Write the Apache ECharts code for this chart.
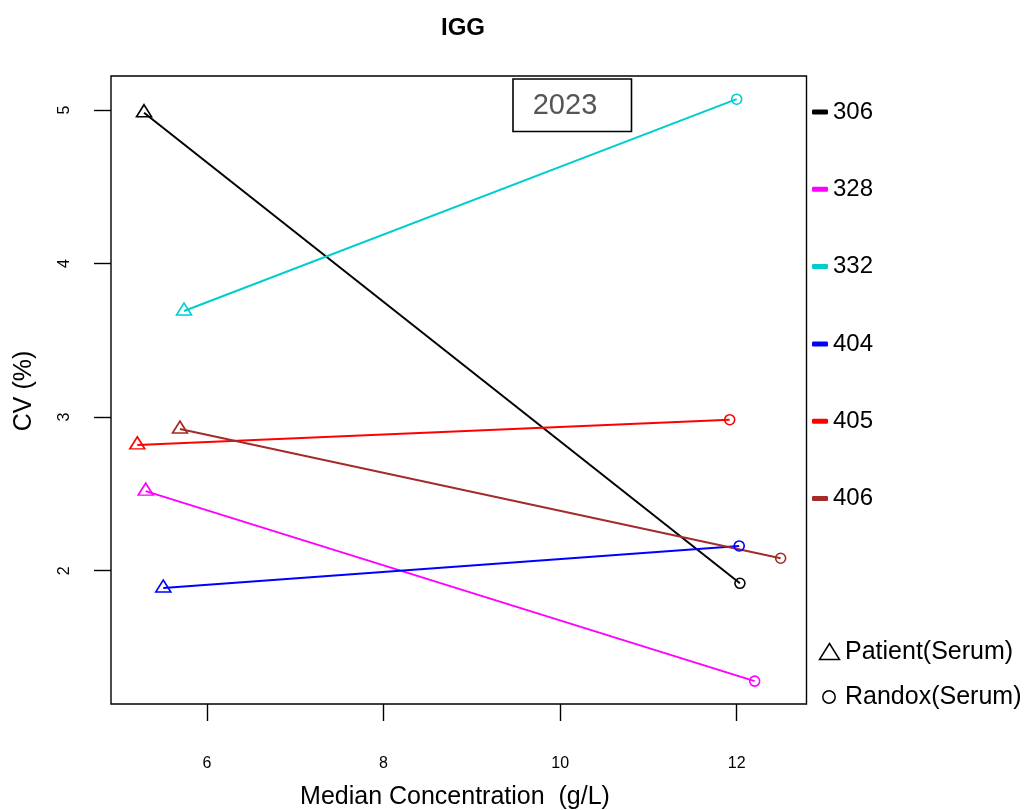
<!DOCTYPE html>
<html>
<head>
<meta charset="utf-8">
<script src="https://cdn.jsdelivr.net/npm/echarts@6/dist/echarts.min.js"></script>
<style>
html,body{margin:0;padding:0;background:#fff;}
#chart{width:1025px;height:810px;}
</style>
</head>
<body>
<div id="chart"></div>
<script>
// ---- data ----
const labs = ['306', '328', '332', '404', '405', '406'];
const colors = ['#000000', '#FF00FF', '#00CDCD', '#0000FF', '#FF0000', '#A52A2A'];
// Patient(Serum) points (triangles)
const patientX = [5.287, 5.306, 5.740, 5.505, 5.211, 5.694];
const patientY = [4.982, 2.518, 3.691, 1.887, 2.819, 2.922];
// Randox(Serum) points (circles)
const randoxX = [12.036, 12.203, 11.999, 12.028, 11.920, 12.497];
const randoxY = [1.918, 1.281, 5.070, 2.161, 2.983, 2.081];
const xTicks = [6, 8, 10, 12];
const yTicks = [2, 3, 4, 5];
const titleText = 'IGG';
const yearText = '2023';
const xName = 'Median Concentration  (g/L)';
const yName = 'CV (%)';
const shapeNames = ['Patient(Serum)', 'Randox(Serum)'];

const FONT = 'Liberation Sans, Arial, Helvetica, sans-serif';
const chart = echarts.init(document.getElementById('chart'), null, {renderer: 'canvas'});

const series = labs.map((name, i) => ({
  name: name,
  type: 'line',
  data: [
    {value: [patientX[i], patientY[i]], symbol: 'triangle', symbolSize: [15, 12], symbolOffset: [0, -2],
     itemStyle: {color: 'none', borderColor: colors[i], borderWidth: 1.6}},
    {value: [randoxX[i], randoxY[i]], symbol: 'circle', symbolSize: 10,
     itemStyle: {color: 'none', borderColor: colors[i], borderWidth: 1.6}}
  ],
  showAllSymbol: true,
  color: colors[i],
  itemStyle: {color: colors[i]},
  lineStyle: {color: colors[i], width: 2},
  emphasis: {disabled: true},
  z: 3
}));

const option = {
  animation: false,
  backgroundColor: '#ffffff',
  title: {
    text: titleText,
    left: 458, top: 23, textAlign: 'center', textVerticalAlign: 'middle',
    textStyle: {fontFamily: FONT, fontSize: 24, fontWeight: 'bold', color: '#000'}
  },
  grid: {
    left: 111, right: 218.5, top: 76, bottom: 106,
    show: true, borderColor: '#000', borderWidth: 1.4,
    containLabel: false, outerBoundsMode: 'none'
  },
  legend: {
    data: labs.map((n, i) => ({name: n, itemStyle: {color: colors[i]}})),
    orient: 'vertical',
    left: 812, top: 100,
    padding: 0,
    icon: 'roundRect',
    itemWidth: 16, itemHeight: 5,
    itemGap: 53.3,
    selectedMode: false,
    textStyle: {fontFamily: FONT, fontSize: 24, lineHeight: 24, color: '#000'}
  },
  xAxis: {
    type: 'value',
    min: 4.913, max: 12.790,
    axisLine: {show: false},
    splitLine: {show: false},
    axisTick: {show: true, customValues: xTicks, length: 17, inside: false, lineStyle: {color: '#000', width: 1.4}},
    axisLabel: {show: true, customValues: xTicks, margin: 52, fontFamily: FONT, fontSize: 16, color: '#000'}
  },
  yAxis: {
    type: 'value',
    min: 1.132, max: 5.221,
    axisLine: {show: false},
    splitLine: {show: false},
    axisTick: {show: true, customValues: yTicks, length: 17, inside: false, lineStyle: {color: '#000', width: 1.4}},
    axisLabel: {show: true, customValues: yTicks, margin: 38, rotate: 90, fontFamily: FONT, fontSize: 16, color: '#000'}
  },
  graphic: [
    {type: 'text', x: 455, y: 797, style: {text: xName, fontFamily: FONT, fontSize: 25, fill: '#000', align: 'center', verticalAlign: 'middle'}},
    {type: 'text', x: 24, y: 391, rotation: Math.PI / 2, style: {text: yName, fontFamily: FONT, fontSize: 25, fill: '#000', align: 'center', verticalAlign: 'middle'}},
    {type: 'rect', shape: {x: 513, y: 79, width: 118.5, height: 52.5}, style: {fill: '#fff', stroke: '#000', lineWidth: 1.6}, z: 10},
    {type: 'text', x: 565, y: 106, z: 11, style: {text: yearText, fontFamily: FONT, fontSize: 29, fill: '#555555', align: 'center', verticalAlign: 'middle'}},
    {type: 'polygon', shape: {points: [[829.5, 643.5], [839.5, 659.5], [819.5, 659.5]]}, style: {fill: 'none', stroke: '#000', lineWidth: 1.5}},
    {type: 'text', x: 845, y: 652, style: {text: shapeNames[0], fontFamily: FONT, fontSize: 25, fill: '#000', align: 'left', verticalAlign: 'middle'}},
    {type: 'circle', shape: {cx: 829, cy: 697, r: 6.2}, style: {fill: 'none', stroke: '#000', lineWidth: 1.5}},
    {type: 'text', x: 845, y: 697, style: {text: shapeNames[1], fontFamily: FONT, fontSize: 25, fill: '#000', align: 'left', verticalAlign: 'middle'}}
  ],
  series: series
};
chart.setOption(option);
</script>
</body>
</html>
